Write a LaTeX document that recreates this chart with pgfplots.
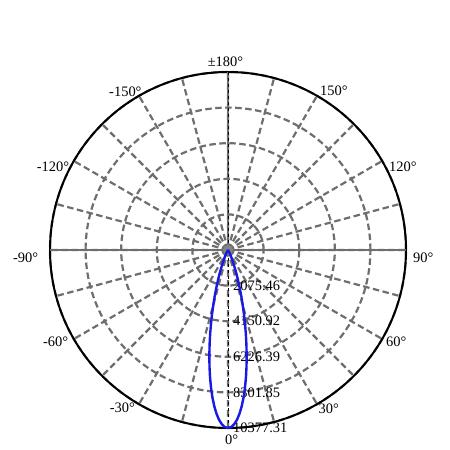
\documentclass[border=0pt]{standalone}
\usepackage{fontspec}
\setmainfont{Liberation Serif}
\usepackage{pgfplots}
\usepackage{pgfplotstable}
\pgfplotsset{compat=1.18}
\usepgfplotslibrary{polar}
\definecolor{gridgray}{RGB}{110,110,110}
\definecolor{curveblue}{RGB}{25,25,230}
% angle in polar axis = 270 + C-plane angle
\pgfplotstableread{
ang r
180 0
220 0
230 1.6
235 14.4
240 90.1
242 170.6
244 306.9
246 524.9
248 856.1
250 1332.2
251 1633.8
252 1981.0
253 2375.4
254 2817.7
255 3305.5
256 3836.2
257 4405.1
258 5005.2
259 5627.5
260 6261.6
261 6895.0
262 7514.8
263 8107.0
264 8656.8
265 9150.5
266 9574.8
267 9918.1
268 10170.7
269 10325.3
270 10377.31
271 10325.3
272 10170.7
273 9918.1
274 9574.8
275 9150.5
276 8656.8
277 8107.0
278 7514.8
279 6895.0
280 6261.6
281 5627.5
282 5005.2
283 4405.1
284 3836.2
285 3305.5
286 2817.7
287 2375.4
288 1981.0
289 1633.8
290 1332.2
292 856.1
294 524.9
296 306.9
298 170.6
300 90.1
305 14.4
310 1.6
320 0
360 0
}\beam
\begin{document}
\begin{tikzpicture}[lab/.style={font=\fontsize{14.5}{16}\selectfont, inner sep=0pt}]
\path[use as bounding box] (0bp,0bp) rectangle (450bp,450bp);
\begin{polaraxis}[
  at={(228bp,200bp)}, anchor=center,
  scale only axis, width=356bp, height=356bp,
  xmin=0, xmax=360, ymin=0, ymax=10377.31,
  xtick={0,30,...,330},
  minor xtick={15,45,...,345},
  xticklabels={},
  ytick={2075.46,4150.92,6226.39,8301.85,10377.31},
  yticklabels={},
  scaled y ticks=false,
  grid=both,
  major grid style={gridgray, line width=2.2bp, dash pattern=on 6.5bp off 3.5bp},
  minor grid style={gridgray, line width=2.2bp, dash pattern=on 6.5bp off 3.5bp},
  major tick length=0pt, minor tick length=0pt,
  axis line style={black, line width=2bp},
  clip=false,
]
\node[lab, anchor=west, xshift=5bp] at (axis cs:270,2075.46) {2075.46};
\node[lab, anchor=west, xshift=5bp] at (axis cs:270,4150.92) {4150.92};
\node[lab, anchor=west, xshift=5bp] at (axis cs:270,6226.39) {6226.39};
\node[lab, anchor=west, xshift=5bp] at (axis cs:270,8301.85) {8301.85};
\node[lab, anchor=west, xshift=5bp] at (axis cs:270,10377.31) {10377.31};
\draw[gridgray, line width=2.2bp] (axis cs:0,10377.31) -- (axis cs:180,10377.31);
\draw[gridgray, line width=2.2bp] (axis cs:90,10377.31) -- (axis cs:90,0);
\draw[black, line width=0.6bp, dash pattern=on 3bp off 3bp] (axis cs:90,10377.31) -- (axis cs:270,10377.31);
\fill[gridgray!85] (axis cs:0,0) circle[radius=5bp];
\addplot[curveblue, line width=2.4bp, no markers] table[x=ang, y=r] {\beam};
\end{polaraxis}
% angular labels (image y measured from top; tikz y = 450 - y)
\node[lab, anchor=west] at (413bp,192.5bp) {90°};
\node[lab, anchor=west] at (389bp,283.3bp) {120°};
\node[lab, anchor=west] at (320bp,359bp) {150°};
\node[lab] at (225.5bp,388.5bp) {±180°};
\node[lab, anchor=east] at (141.7bp,358.3bp) {-150°};
\node[lab, anchor=east] at (69.3bp,283.3bp) {-120°};
\node[lab, anchor=east] at (38.3bp,192.5bp) {-90°};
\node[lab, anchor=east] at (68.3bp,108.3bp) {-60°};
\node[lab, anchor=east] at (135bp,42bp) {-30°};
\node[lab] at (231.7bp,10bp) {0°};
\node[lab, anchor=west] at (318.5bp,41bp) {30°};
\node[lab, anchor=west] at (386bp,108.5bp) {60°};
\end{tikzpicture}
\end{document}
